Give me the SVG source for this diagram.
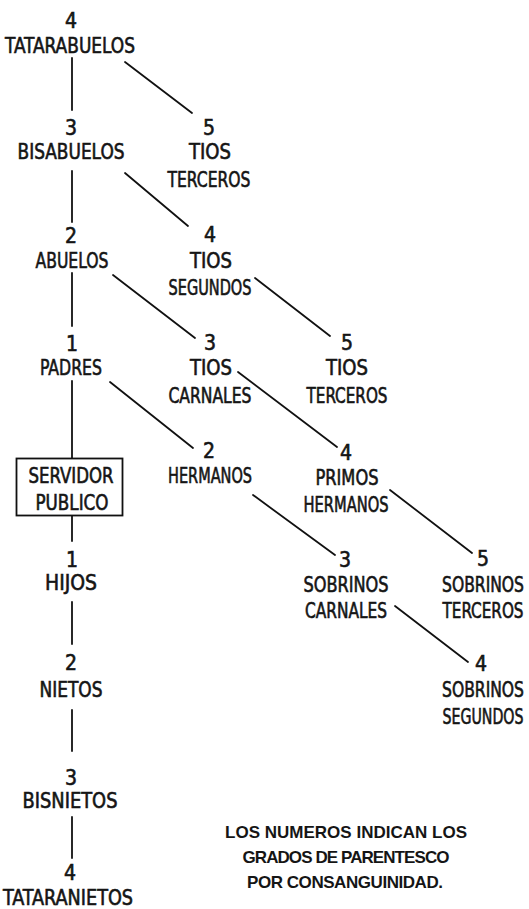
<svg xmlns="http://www.w3.org/2000/svg" width="529" height="909" viewBox="0 0 529 909">
<style>
.t{font-family:"Liberation Sans Narrow","DejaVu Sans Condensed","Liberation Sans",sans-serif;font-size:21px;fill:#151515;stroke:#151515;stroke-width:0.6;text-anchor:middle}
.n{font-family:"Liberation Sans Narrow","DejaVu Sans Condensed","Liberation Sans",sans-serif;font-size:21px;fill:#151515;stroke:#151515;stroke-width:0.6;text-anchor:middle}
.r{text-anchor:end}
.note{font-family:"Liberation Sans","DejaVu Sans",sans-serif;font-size:17px;font-weight:bold;fill:#151515;text-anchor:middle}
.c line{stroke:#111;stroke-width:1.8;stroke-linecap:round}
.box{fill:none;stroke:#111;stroke-width:1.8}
</style>
<rect width="529" height="909" fill="#fff"/>
<g class="c" id="connectors">
<line x1="72" y1="58" x2="72" y2="110"/>
<line x1="72" y1="171" x2="72" y2="222"/>
<line x1="72" y1="273" x2="72" y2="326"/>
<line x1="72" y1="381" x2="72" y2="458"/>
<line x1="72" y1="516" x2="72" y2="541"/>
<line x1="72" y1="602" x2="72" y2="644"/>
<line x1="72" y1="710" x2="72" y2="751"/>
<line x1="72" y1="817" x2="72" y2="858"/>
<line x1="125" y1="62" x2="192" y2="113"/>
<line x1="125" y1="173" x2="188" y2="226"/>
<line x1="113" y1="275" x2="195" y2="338"/>
<line x1="110" y1="382" x2="193" y2="448"/>
<line x1="255" y1="278" x2="330" y2="336"/>
<line x1="238" y1="372" x2="337" y2="447"/>
<line x1="253" y1="495" x2="335" y2="555"/>
<line x1="390" y1="490" x2="472" y2="553"/>
<line x1="395" y1="606" x2="468" y2="662"/>
</g>
<g id="tatarabuelos"><text class="n" x="71" y="28">4</text><text class="t" x="70" y="53" textLength="130" lengthAdjust="spacingAndGlyphs">TATARABUELOS</text></g>
<g id="bisabuelos"><text class="n" x="71" y="135">3</text><text class="t" x="71" y="159" textLength="107" lengthAdjust="spacingAndGlyphs">BISABUELOS</text></g>
<g id="abuelos"><text class="n" x="71" y="243">2</text><text class="t" x="72" y="268" textLength="73" lengthAdjust="spacingAndGlyphs">ABUELOS</text></g>
<g id="padres"><text class="n" x="72" y="351">1</text><text class="t" x="71" y="375" textLength="62" lengthAdjust="spacingAndGlyphs">PADRES</text></g>
<g id="servidor"><rect class="box" x="16.5" y="458.5" width="106" height="57"/><text class="t" x="71" y="483" textLength="85" lengthAdjust="spacingAndGlyphs">SERVIDOR</text><text class="t" x="72" y="510" textLength="73" lengthAdjust="spacingAndGlyphs">PUBLICO</text></g>
<g id="hijos"><text class="n" x="72" y="567">1</text><text class="t" x="71" y="590" textLength="52" lengthAdjust="spacingAndGlyphs">HIJOS</text></g>
<g id="nietos"><text class="n" x="71" y="670">2</text><text class="t" x="71" y="697" textLength="63" lengthAdjust="spacingAndGlyphs">NIETOS</text></g>
<g id="bisnietos"><text class="n" x="71" y="785">3</text><text class="t" x="70" y="808" textLength="95" lengthAdjust="spacingAndGlyphs">BISNIETOS</text></g>
<g id="tataranietos"><text class="n" x="70" y="880">4</text><text class="t" x="68" y="905" textLength="130" lengthAdjust="spacingAndGlyphs">TATARANIETOS</text></g>
<g id="tios-terceros-1"><text class="n" x="209" y="135">5</text><text class="t" x="210" y="159" textLength="42" lengthAdjust="spacingAndGlyphs">TIOS</text><text class="t" x="209" y="187" textLength="83" lengthAdjust="spacingAndGlyphs">TERCEROS</text></g>
<g id="tios-segundos"><text class="n" x="210" y="242">4</text><text class="t" x="211" y="268" textLength="42" lengthAdjust="spacingAndGlyphs">TIOS</text><text class="t" x="210" y="295" textLength="83" lengthAdjust="spacingAndGlyphs">SEGUNDOS</text></g>
<g id="tios-carnales"><text class="n" x="210" y="350">3</text><text class="t" x="211" y="375" textLength="42" lengthAdjust="spacingAndGlyphs">TIOS</text><text class="t" x="210" y="403" textLength="83" lengthAdjust="spacingAndGlyphs">CARNALES</text></g>
<g id="hermanos"><text class="n" x="209" y="458">2</text><text class="t" x="210" y="483" textLength="84" lengthAdjust="spacingAndGlyphs">HERMANOS</text></g>
<g id="tios-terceros-2"><text class="n" x="347" y="350">5</text><text class="t" x="347" y="375" textLength="42" lengthAdjust="spacingAndGlyphs">TIOS</text><text class="t" x="347" y="403" textLength="81" lengthAdjust="spacingAndGlyphs">TERCEROS</text></g>
<g id="primos-hermanos"><text class="n" x="346" y="460">4</text><text class="t" x="347" y="485" textLength="63" lengthAdjust="spacingAndGlyphs">PRIMOS</text><text class="t" x="346" y="512" textLength="85" lengthAdjust="spacingAndGlyphs">HERMANOS</text></g>
<g id="sobrinos-carnales"><text class="n" x="345" y="567">3</text><text class="t" x="346" y="592" textLength="85" lengthAdjust="spacingAndGlyphs">SOBRINOS</text><text class="t" x="346" y="618" textLength="82" lengthAdjust="spacingAndGlyphs">CARNALES</text></g>
<g id="sobrinos-terceros"><text class="n" x="483" y="566">5</text><text class="t r" x="524" y="592" textLength="82" lengthAdjust="spacingAndGlyphs">SOBRINOS</text><text class="t r" x="523.5" y="618" textLength="81" lengthAdjust="spacingAndGlyphs">TERCEROS</text></g>
<g id="sobrinos-segundos"><text class="n" x="481" y="671">4</text><text class="t r" x="524" y="697" textLength="82" lengthAdjust="spacingAndGlyphs">SOBRINOS</text><text class="t r" x="523.5" y="724" textLength="81" lengthAdjust="spacingAndGlyphs">SEGUNDOS</text></g>
<g id="nota"><text class="note" x="346" y="838" textLength="242" lengthAdjust="spacing">LOS NUMEROS INDICAN LOS</text><text class="note" x="346" y="863" textLength="207" lengthAdjust="spacing">GRADOS DE PARENTESCO</text><text class="note" x="345" y="888" textLength="196" lengthAdjust="spacing">POR CONSANGUINIDAD.</text></g>
</svg>
